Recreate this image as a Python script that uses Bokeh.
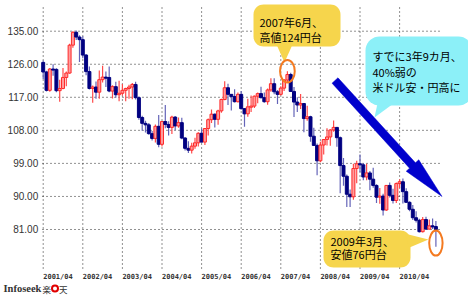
import numpy as np
from bokeh.plotting import figure
from bokeh.models import Range1d
from bokeh.core.properties import value
from bokeh.embed import file_html
from bokeh.resources import INLINE

# ---------------- data (monthly USD/JPY, 2001/04 - 2011/03) ----------------
opens = [126.5, 123.9, 118.9, 124.7, 124.6, 118.8, 119.4, 122.4, 123.6,
         131.2, 134.7, 133.4, 132.7, 128.5, 124.0, 119.4, 119.8, 118.4, 121.8, 122.5, 122.4,
         118.7, 119.9, 117.7, 118.1, 118.9, 119.4, 119.8, 120.5, 116.9, 111.5, 109.9, 109.5,
         107.1, 105.8, 109.1, 104.2, 110.4, 109.6, 108.8, 111.6, 109.2, 110.1, 105.9, 103.1,
         102.6, 103.7, 104.6, 107.2, 104.8, 108.5, 110.9, 112.4, 111.0, 113.3, 116.4, 119.6,
         117.8, 117.2, 115.8, 117.8, 113.9, 112.5, 114.4, 114.6, 117.3, 118.0, 116.9, 115.8,
         119.0, 120.7, 118.5, 117.8, 119.5, 121.7, 123.2, 118.6, 115.7, 114.9, 115.3, 111.2,
         111.7, 106.4, 103.9, 99.7, 104.0, 105.5, 106.2, 108.1, 108.8, 106.0, 98.4, 95.5,
         90.6, 89.9, 97.6, 98.9, 98.6, 95.3, 96.4, 94.7, 93.0, 89.8, 90.1, 86.3,
         93.0, 90.3, 88.9, 93.5, 94.0, 91.3, 88.4, 86.5, 84.2, 83.5, 80.4, 83.7,
         81.1, 82.0, 81.8]
highs = [127.0, 124.2, 125.0, 126.0, 124.9, 121.8, 125.0, 124.0, 131.6,
         135.0, 135.2, 133.9, 133.6, 128.8, 125.4, 120.2, 121.3, 124.3, 125.6, 124.0, 125.4,
         120.3, 121.2, 121.5, 120.6, 119.6, 120.4, 120.9, 121.2, 117.2, 112.0, 110.6, 110.0,
         107.8, 109.6, 112.2, 110.5, 114.9, 110.5, 112.0, 111.9, 111.5, 111.4, 106.2, 105.0,
         104.6, 106.0, 107.5, 108.5, 108.6, 111.2, 113.7, 112.6, 113.6, 116.6, 121.4, 120.7,
         117.9, 119.2, 118.3, 118.7, 114.1, 116.6, 117.5, 117.5, 118.3, 119.9, 118.3, 119.4,
         122.2, 122.2, 119.0, 120.0, 122.0, 124.1, 123.7, 119.8, 117.0, 117.9, 115.4, 114.7,
         112.0, 108.7, 104.4, 104.9, 105.6, 108.6, 108.3, 110.7, 108.9, 106.3, 100.5, 96.0,
         91.9, 98.9, 99.7, 101.4, 99.1, 98.9, 96.9, 97.8, 93.3, 92.3, 90.7, 93.1,
         93.8, 92.1, 93.8, 94.7, 94.9, 92.2, 88.7, 87.7, 86.0, 83.9, 84.4, 84.5,
         83.7, 84.0, 83.3]
lows = [122.0, 118.6, 118.5, 122.9, 118.4, 115.8, 119.2, 120.0, 123.4,
        130.5, 132.6, 126.6, 127.6, 123.0, 119.1, 115.5, 116.6, 116.6, 121.0, 119.8, 118.4,
        116.7, 116.9, 115.9, 117.5, 115.9, 116.6, 116.5, 116.4, 110.9, 107.9, 107.4, 106.8,
        105.2, 104.7, 103.4, 103.6, 108.6, 106.6, 107.0, 108.0, 108.7, 105.6, 102.5, 101.8,
        101.7, 103.0, 103.6, 104.7, 104.0, 106.6, 110.0, 108.8, 109.5, 112.8, 116.2, 114.9,
        113.4, 115.6, 115.6, 113.7, 109.0, 111.7, 113.0, 114.1, 115.4, 116.7, 115.5, 115.0,
        118.5, 117.8, 115.2, 117.5, 118.7, 121.0, 118.5, 111.6, 113.0, 113.8, 107.5, 110.6,
        104.9, 103.8, 95.8, 99.3, 101.4, 103.9, 103.8, 107.6, 103.5, 90.9, 92.9, 87.1,
        87.1, 89.1, 93.6, 96.6, 94.4, 94.4, 91.7, 92.4, 88.2, 88.0, 84.8, 86.1,
        89.7, 88.1, 88.2, 92.3, 88.1, 88.2, 86.0, 83.6, 82.9, 80.2, 80.2, 80.9,
        81.0, 81.1, 76.3]
closes = [123.9, 118.9, 124.7, 124.6, 118.8, 119.4, 122.4, 123.6, 131.2,
          134.7, 133.4, 132.7, 128.5, 124.0, 119.4, 119.8, 118.4, 121.8, 122.5, 122.4, 118.7,
          119.9, 117.7, 118.1, 118.9, 119.4, 119.8, 120.5, 116.9, 111.5, 109.9, 109.5, 107.1,
          105.8, 109.1, 104.2, 110.4, 109.6, 108.8, 111.6, 109.2, 110.1, 105.9, 103.1, 102.6,
          103.7, 104.6, 107.2, 104.8, 108.5, 110.9, 112.4, 111.0, 113.3, 116.4, 119.6, 117.8,
          117.2, 115.8, 117.8, 113.9, 112.5, 114.4, 114.6, 117.3, 118.0, 116.9, 115.8, 119.0,
          120.7, 118.5, 117.8, 119.5, 121.7, 123.2, 118.6, 115.7, 114.9, 115.3, 111.2, 111.7,
          106.4, 103.9, 99.7, 104.0, 105.5, 106.2, 108.1, 108.8, 106.0, 98.4, 95.5, 90.6,
          89.9, 97.6, 98.9, 98.6, 95.3, 96.4, 94.7, 93.0, 89.8, 90.1, 86.3, 93.0,
          90.3, 88.9, 93.5, 94.0, 91.3, 88.4, 86.5, 84.2, 83.5, 80.4, 83.7, 81.1,
          82.0, 81.8, 81.0]

y_ticks = [81, 90, 99, 108, 117, 126, 135]
y_tick_labels = ["81.00", "90.00", "99.00", "108.00", "117.00", "126.00", "135.00"]
x_tick_labels = ["2001/04", "2002/04", "2003/04", "2004/04", "2005/04",
                 "2006/04", "2007/04", "2008/04", "2009/04", "2010/04"]
x_tick_pos = [12 * k for k in range(len(x_tick_labels))]

note_high = ["2007年6月、", "高値124円台"]
note_low = ["2009年3月、", "安値76円台"]
note_trend = ["すでに3年9カ月、", "40%弱の", "米ドル安・円高に"]

# ---------------- layout / scales ----------------
W, H = 468, 299
PX_MONTH = 3.3          # pixels per month
PX_YEN = 3.672          # pixels per yen
LEFT_PX = 42.7          # pixel of first month
Y_TOP = 143.36          # value at top edge of canvas

x_start = -LEFT_PX / PX_MONTH
x_end = x_start + W / PX_MONTH
y_end = Y_TOP
y_start = Y_TOP - H / PX_YEN


def px2x(px):
    return x_start + px / PX_MONTH


def px2y(py):
    return Y_TOP - py / PX_YEN


p = figure(width=W, height=H, output_backend="svg", toolbar_location=None,
           x_axis_type=None, y_axis_type=None, min_border=0,
           x_range=Range1d(x_start, x_end), y_range=Range1d(y_start, y_end),
           outline_line_color=None, background_fill_color="white",
           border_fill_color="white")

# ---------------- grid ----------------
gx0, gx1 = px2x(42.0), px2x(440.0)
gy0, gy1 = px2y(268.0), px2y(6.0)
p.segment(x0=[gx0] * len(y_ticks), x1=[gx1] * len(y_ticks), y0=y_ticks, y1=y_ticks,
          line_color="#222222", line_width=1, line_dash="1 3")
p.segment(x0=x_tick_pos, x1=x_tick_pos, y0=[gy0] * len(x_tick_pos), y1=[gy1] * len(x_tick_pos),
          line_color="#222222", line_width=1, line_dash="1 3")

# ---------------- candles ----------------
o = np.array(opens); h = np.array(highs); l = np.array(lows); c = np.array(closes)
xi = np.arange(len(o))
up = c >= o
wick_col = np.where(up, "#ff4a4a", "#6464b8").tolist()
body_fill = np.where(up, "#ff9c9c", "#000080").tolist()
body_line = np.where(up, "#ff2a2a", "#000080").tolist()
p.segment(x0=xi, x1=xi, y0=l, y1=h, line_color=wick_col, line_width=1.2)
top = np.maximum(o, c); bot = np.minimum(o, c)
bot = np.where(top - bot < 0.3, top - 0.3, bot)
p.vbar(x=xi, width=0.9, top=top, bottom=bot, fill_color=body_fill, line_color=body_line,
       line_width=1)

# ---------------- axis labels ----------------
p.text(x=[0] * len(y_ticks), y=y_ticks, text=y_tick_labels, x_offset=-5,
       text_font=value("Liberation Sans"), text_font_size="10px", text_color="#333333",
       text_align="right", text_baseline="middle")
p.text(x=x_tick_pos, y=[px2y(276)] * len(x_tick_pos), text=x_tick_labels,
       text_font=value("DejaVu Sans Mono"), text_font_style="bold", text_font_size="7px",
       text_color="#333333", text_align="left", text_baseline="middle")


# ---------------- callouts ----------------
def rrect(x0, y0, x1, y1, r, n=10):
    pts = []
    for cx, cy, a0 in [(x1 - r, y0 + r, -90), (x1 - r, y1 - r, 0),
                       (x0 + r, y1 - r, 90), (x0 + r, y0 + r, 180)]:
        for a in np.linspace(np.radians(a0), np.radians(a0 + 90), n):
            pts.append((cx + r * np.cos(a), cy + r * np.sin(a)))
    return [px2x(q[0]) for q in pts], [px2y(q[1]) for q in pts]


def poly(pts):
    return [px2x(q[0]) for q in pts], [px2y(q[1]) for q in pts]


YELLOW = "#f6d54c"
CYAN = "#8cf0f8"

# blue arrow
S = np.array([334.5, 80.0]); B = np.array([412.0, 165.0]); T = np.array([441.5, 196.0])
d = (B - S) / np.linalg.norm(B - S); nv = np.array([-d[1], d[0]])
arrow = [S + 4 * nv, B + 4 * nv, B + 8.5 * nv, T, B - 8.5 * nv, B - 4 * nv, S - 4 * nv]
ax_, ay_ = poly(arrow)
p.patch(ax_, ay_, fill_color="#0000cc", line_color="#0000cc", line_width=0.5)

# top (high) callout
bx, by = rrect(253, 4, 340, 46, 10)
p.patch(bx, by, fill_color=YELLOW, line_color=None)
tx, ty = poly([(276, 44), (292, 44), (284, 62)])
p.patch(tx, ty, fill_color=YELLOW, line_color=None)

# trend callout
bx, by = rrect(365, 36, 472, 105, 14)
p.patch(bx, by, fill_color=CYAN, line_color=None)
tx, ty = poly([(377, 103), (393, 103), (374, 117)])
p.patch(tx, ty, fill_color=CYAN, line_color=None)

# low callout
bx, by = rrect(323, 230, 410, 267, 10)
p.patch(bx, by, fill_color=YELLOW, line_color=None)
tx, ty = poly([(404, 233), (409, 247), (428, 239)])
p.patch(tx, ty, fill_color=YELLOW, line_color=None)

# orange ellipses at the high and the low
hi_i = int(np.argmax(h[60:])) + 60
lo_i = int(np.argmin(l))
p.ellipse(x=[hi_i, lo_i], y=[h[hi_i], l[lo_i] + 1.0],
          width=[14.7 / PX_MONTH, 13.4 / PX_MONTH], height=[22.4 / PX_YEN, 25.0 / PX_YEN],
          fill_color=None, line_color="#f47a20", line_width=2)

cjk = value("Noto Sans CJK JP")
p.text(x=[px2x(259)] * 2, y=[px2y(21), px2y(36)], text=note_high, text_font=cjk,
       text_font_size="11px", text_color="black", text_baseline="middle")
p.text(x=[px2x(372)] * 3, y=[px2y(55), px2y(71), px2y(86)], text=note_trend, text_font=cjk,
       text_font_size="11px", text_color="black", text_baseline="middle")
p.text(x=[px2x(330)] * 2, y=[px2y(240), px2y(253)], text=note_low, text_font=cjk,
       text_font_size="11px", text_color="black", text_baseline="middle")

# ---------------- logo ----------------
p.text(x=[px2x(3)], y=[px2y(288)], text=["Infoseek"], text_font=value("Liberation Serif"),
       text_font_style="bold", text_font_size="10.5px", text_color="#333333",
       text_baseline="middle")
p.text(x=[px2x(42), px2x(58.5)], y=[px2y(288)] * 2, text=["楽", "天"], text_font=cjk,
       text_font_size="8.5px", text_color="#333333", text_baseline="middle")
p.scatter(x=[px2x(54.5)], y=[px2y(288)], marker="circle", size=6, fill_color="white",
          line_color="#e00000", line_width=2)

open("out.html", "w").write(file_html(p, INLINE))
